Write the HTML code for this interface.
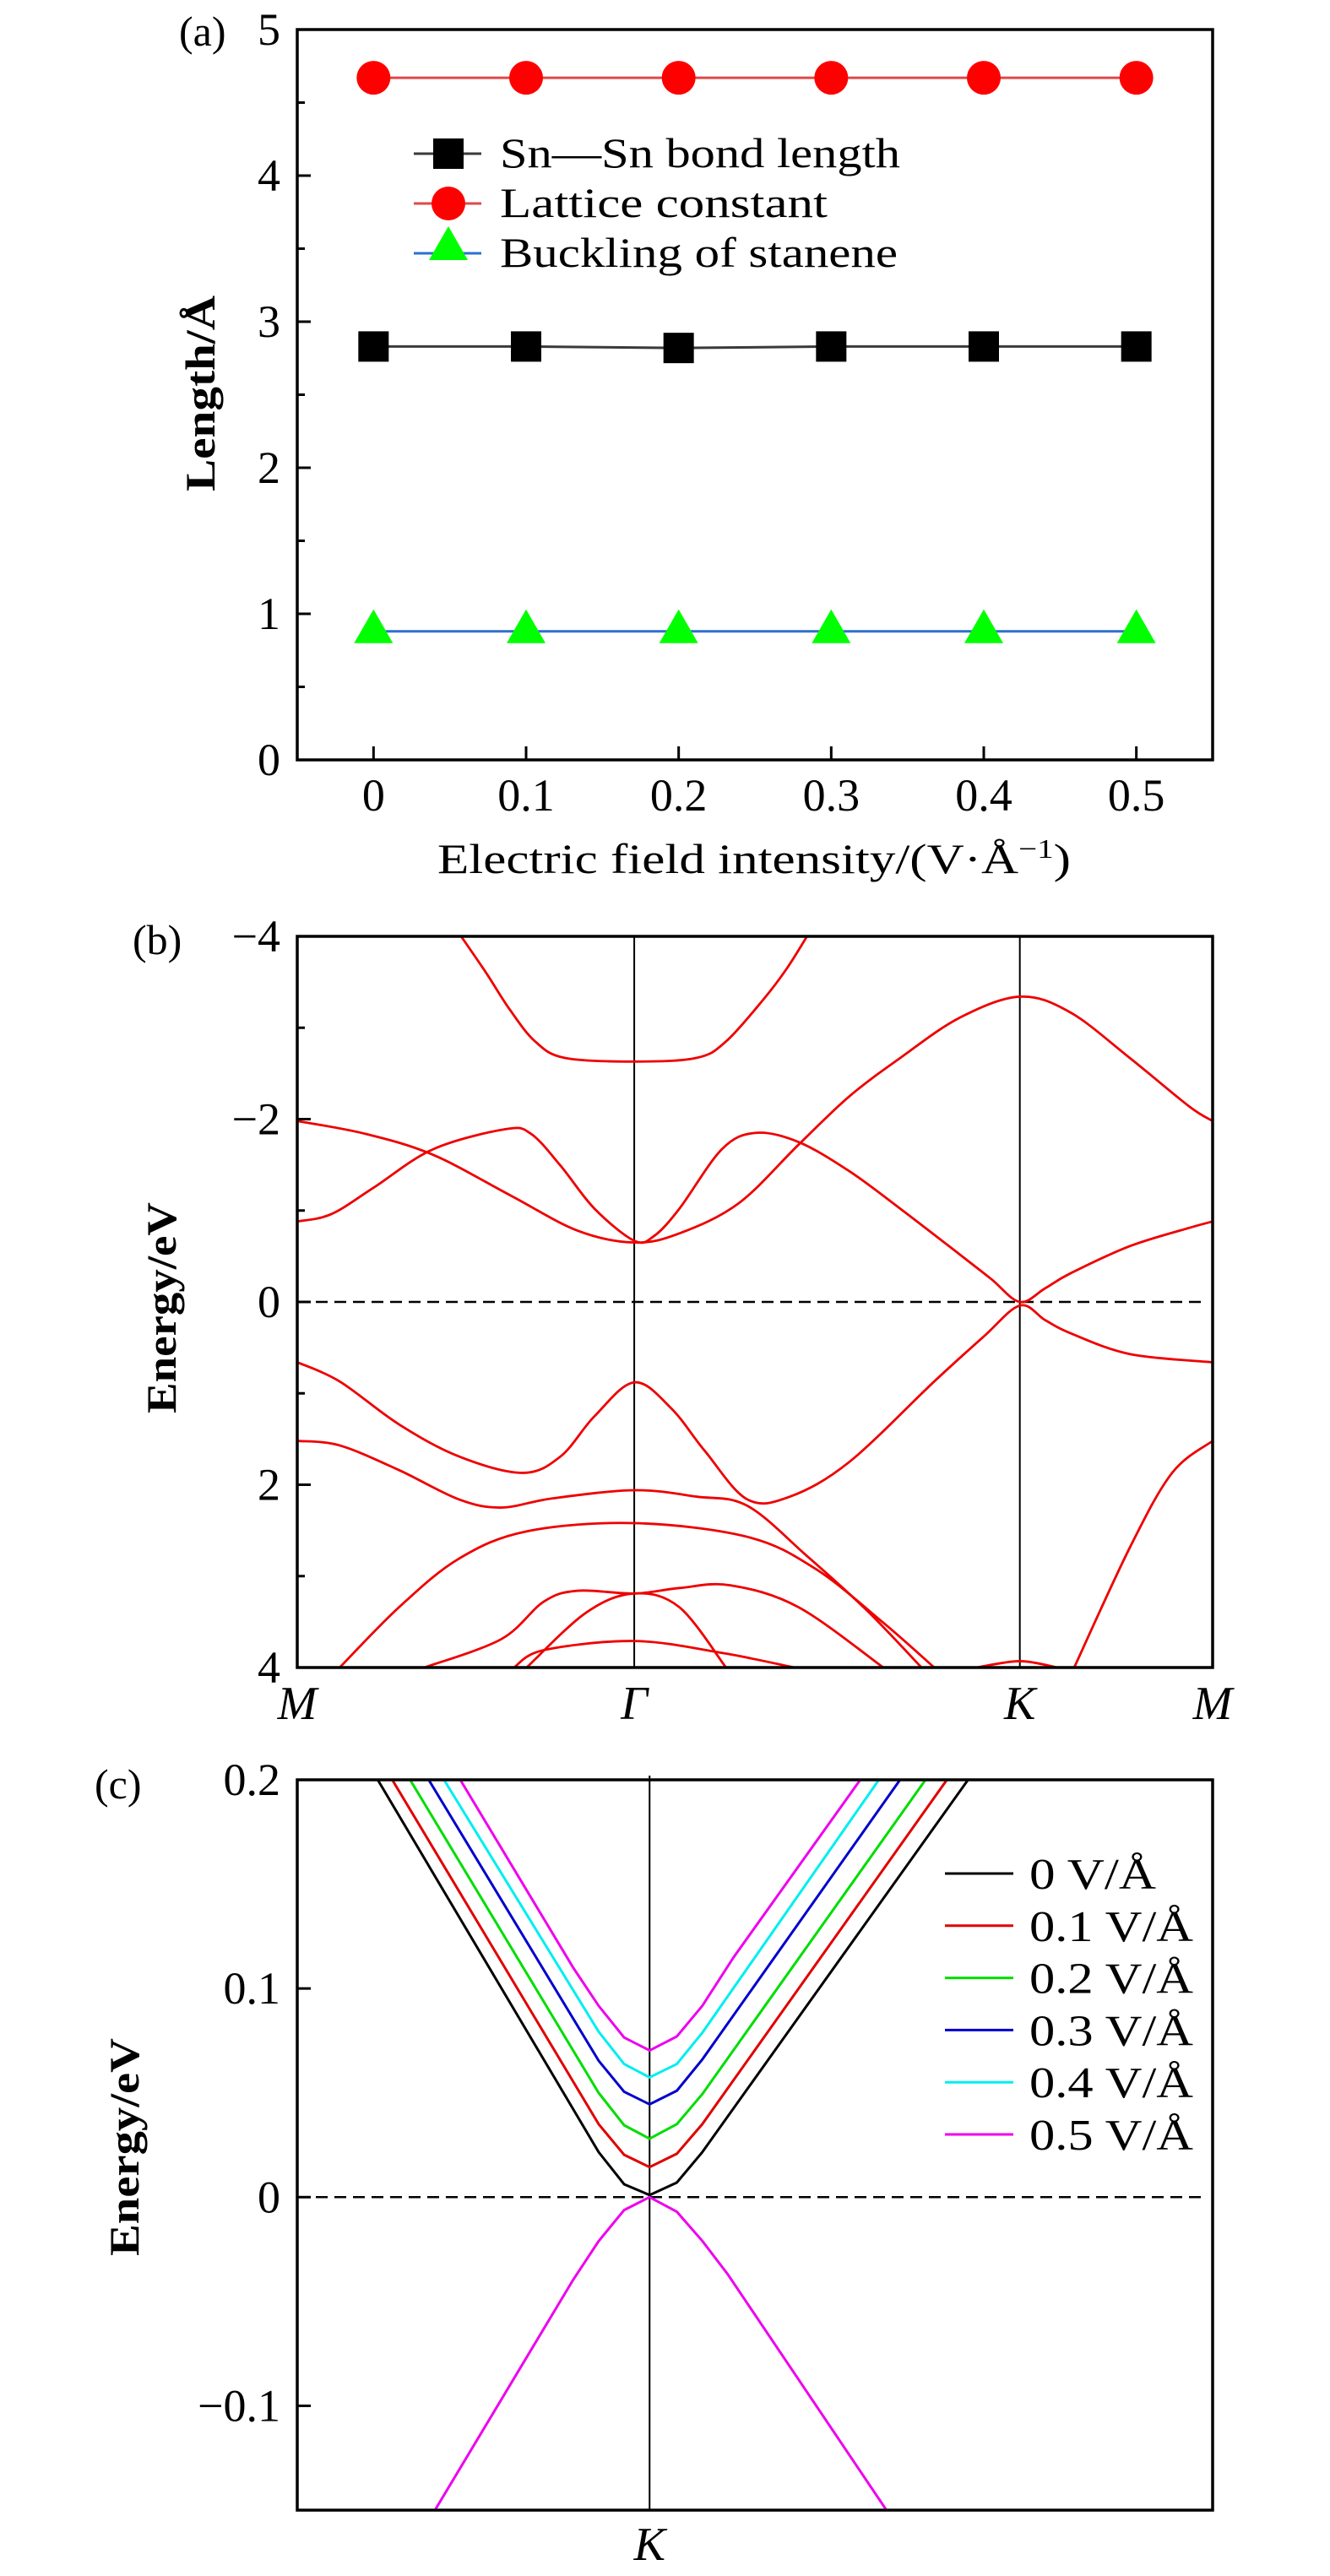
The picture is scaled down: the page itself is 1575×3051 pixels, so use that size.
<!DOCTYPE html>
<html><head><meta charset="utf-8"><style>
html,body{margin:0;padding:0;background:#fff}
svg{display:block}
text{font-family:"Liberation Serif",serif;fill:#000}
</style></head><body>
<svg id="fig" xmlns="http://www.w3.org/2000/svg" width="1575" height="3051" viewBox="0 0 1575 3051">
<g id="pa"></g>
<g id="pb"></g>
<g id="pc"></g>
</svg>
<script>
// ---------- Panel (a) data ----------
const aFields = [0, 0.1, 0.2, 0.3, 0.4, 0.5];
const aBond = [2.83, 2.83, 2.82, 2.83, 2.83, 2.83];
const aLattice = [4.67, 4.67, 4.67, 4.67, 4.67, 4.67];
const aBuckling = [0.88, 0.88, 0.88, 0.88, 0.88, 0.88];
const aXTicks = ["0", "0.1", "0.2", "0.3", "0.4", "0.5"];
const aYTicks = ["0", "1", "2", "3", "4", "5"];

// ---------- Panel (b) data (k along M-Γ-K-M, energy eV) ----------
const bKTicks = [0, 0.874, 1.874, 2.374];
const bKLabels = ["M", "Γ", "K", "M"];
const bYTicks = ["−4", "−2", "0", "2", "4"];
const bBand1 = [[0.425,-4.0],[0.49,-3.6],[0.551,-3.2],[0.617,-2.85],[0.694,-2.67],[0.874,-2.63],[1.035,-2.67],[1.112,-2.85],[1.211,-3.32],[1.27,-3.65],[1.322,-4.0]];
const bBand2 = [[0,-1.98],[0.176,-1.84],[0.352,-1.61],[0.551,-1.17],[0.727,-0.78],[0.874,-0.65],[0.991,-0.75],[1.145,-1.08],[1.300,-1.72],[1.432,-2.25],[1.564,-2.67],[1.718,-3.11],[1.874,-3.34],[2.004,-3.17],[2.159,-2.67],[2.313,-2.14],[2.374,-1.98]];
const bBand3 = [[0,-0.88],[0.088,-0.96],[0.198,-1.25],[0.352,-1.67],[0.540,-1.89],[0.606,-1.84],[0.683,-1.49],[0.771,-1.02],[0.874,-0.67],[0.925,-0.72],[0.991,-1.02],[1.101,-1.67],[1.189,-1.85],[1.300,-1.75],[1.432,-1.43],[1.564,-1.02],[1.718,-0.52],[1.80,-0.25],[1.874,0],[1.94,-0.15],[2.004,-0.31],[2.159,-0.61],[2.313,-0.81],[2.374,-0.88]];
const bBand4 = [[0,0.66],[0.110,0.87],[0.264,1.34],[0.419,1.69],[0.584,1.87],[0.683,1.69],[0.771,1.25],[0.874,0.88],[0.969,1.16],[1.057,1.63],[1.167,2.16],[1.278,2.13],[1.432,1.75],[1.652,0.87],[1.78,0.38],[1.874,0.04],[1.94,0.20],[2.004,0.34],[2.159,0.57],[2.374,0.66]];
const bBand5 = [[0,1.52],[0.110,1.57],[0.264,1.84],[0.419,2.16],[0.529,2.25],[0.661,2.15],[0.874,2.06],[1.035,2.13],[1.167,2.23],[1.322,2.78],[1.476,3.37],[1.619,4.0]];
const bBand6 = [[0.110,4.0],[0.264,3.34],[0.419,2.81],[0.595,2.51],[0.874,2.42],[1.167,2.57],[1.344,2.92],[1.520,3.51],[1.652,4.0]];
const bBand7 = [[0.330,4.0],[0.529,3.69],[0.639,3.28],[0.727,3.16],[0.874,3.19],[0.991,3.13],[1.123,3.10],[1.300,3.34],[1.520,4.0]];
const bBand8 = [[0.595,4.0],[0.749,3.40],[0.874,3.19],[0.991,3.34],[1.112,4.0]];
const bBand9 = [[0.562,4.0],[0.639,3.81],[0.874,3.71],[1.101,3.84],[1.289,4.0]];
const bBand10 = [[1.762,4.0],[1.874,3.93],[1.971,4.0]];
const bBand11 = [[2.015,4.0],[2.159,2.69],[2.269,1.87],[2.374,1.52]];

// ---------- Panel (c) data (Δk around K, energy eV) ----------
const cLabels = ["0 V/Å","0.1 V/Å","0.2 V/Å","0.3 V/Å","0.4 V/Å","0.5 V/Å"];
const cColors = ["#000000","#e00000","#00dd00","#0000cc","#00eeee","#ee00ee"];
const cYTicks = ["0.2","0.1","0","−0.1"];
const cBlack = [[-1.067,0.2],[-0.2,0.0216],[-0.1,0.0062],[0,0.001],[0.107,0.0070],[0.207,0.0216],[1.25,0.2]];
const cRed = [[-1.01,0.2],[-0.2,0.035],[-0.1,0.0203],[0,0.0144],[0.107,0.0208],[0.207,0.035],[1.167,0.2]];
const cGreen = [[-0.94,0.2],[-0.2,0.050],[-0.1,0.0345],[0,0.028],[0.107,0.035],[0.207,0.0494],[1.083,0.2]];
const cBlue = [[-0.867,0.2],[-0.2,0.0654],[-0.1,0.0505],[0,0.0445],[0.107,0.051],[0.207,0.066],[0.983,0.2]];
const cCyan = [[-0.807,0.2],[-0.2,0.0793],[-0.1,0.0638],[0,0.0574],[0.107,0.0638],[0.207,0.0788],[0.9,0.2]];
const cMagenta = [[-0.743,0.2],[-0.3,0.11],[-0.2,0.0917],[-0.1,0.0765],[0,0.0703],[0.107,0.077],[0.207,0.0917],[0.33,0.115],[0.827,0.2]];
const cValence = [[-0.84,-0.1495],[-0.3,-0.0396],[-0.2,-0.0211],[-0.1,-0.0062],[0,0],[0.107,-0.007],[0.207,-0.021],[0.307,-0.037],[0.927,-0.1495]];

const NS = "http://www.w3.org/2000/svg";
function mk(parent, tag, attrs, txt){
  const e = document.createElementNS(NS, tag);
  for (const k in attrs) e.setAttribute(k, attrs[k]);
  if (txt !== undefined) e.textContent = txt;
  parent.appendChild(e);
  return e;
}
function lin(d0,d1,r0,r1){ return v => r0 + (v-d0)/(d1-d0)*(r1-r0); }
function smoothPath(pts){
  let d = "M"+pts[0][0].toFixed(2)+","+pts[0][1].toFixed(2);
  for (let i=0;i<pts.length-1;i++){
    const p0=pts[Math.max(0,i-1)], p1=pts[i], p2=pts[i+1], p3=pts[Math.min(pts.length-1,i+2)];
    const c1x=p1[0]+(p2[0]-p0[0])/6, c1y=p1[1]+(p2[1]-p0[1])/6;
    const c2x=p2[0]-(p3[0]-p1[0])/6, c2y=p2[1]-(p3[1]-p1[1])/6;
    d += " C"+c1x.toFixed(2)+","+c1y.toFixed(2)+" "+c2x.toFixed(2)+","+c2y.toFixed(2)+" "+p2[0].toFixed(2)+","+p2[1].toFixed(2);
  }
  return d;
}
const TICKFONT = 54;

// ================= Panel A =================
(function(){
  const g = document.getElementById('pa');
  const L=352,R=1436,T=35,B=900;
  const x = lin(-0.05,0.55,L,R), y = lin(0,5,B,T);
  for (let i=0;i<aYTicks.length;i++){
    const v = +aYTicks[i];
    const t = mk(g,'line',{x1:L,x2:L+16,y1:y(v),y2:y(v),stroke:'#000','stroke-width':3});
     
    if (i<aYTicks.length-1){
      const m = mk(g,'line',{x1:L,x2:L+9,y1:y(v+0.5),y2:y(v+0.5),stroke:'#000','stroke-width':3});
       
    }
    const lb = mk(g,'text',{x:332,y:y(v)+18,'font-size':TICKFONT,'text-anchor':'end'},aYTicks[i]);
     
  }
  for (let i=0;i<aFields.length;i++){
    const t = mk(g,'line',{x1:x(aFields[i]),x2:x(aFields[i]),y1:B,y2:B-16,stroke:'#000','stroke-width':3});
     
    const lb = mk(g,'text',{x:x(aFields[i]),y:960,'font-size':TICKFONT,'text-anchor':'middle'},aXTicks[i]);
     
  }
  const series = [
    {v:aBond, line:'#3a3a3a', m:'square', name:'bond-length'},
    {v:aLattice, line:'#e04848', m:'circle', name:'lattice-constant'},
    {v:aBuckling, line:'#2f6fd0', m:'triangle', name:'buckling'}
  ];
  function marker(parent, m, cx, cy){
    let e;
    if (m==='square') e = mk(parent,'rect',{x:cx-18,y:cy-18,width:36,height:36,fill:'#000'});
    else if (m==='circle') e = mk(parent,'ellipse',{cx:cx,cy:cy,rx:20,ry:20,fill:'#ff0000'});
    else e = mk(parent,'polygon',{points:(cx-23)+','+(cy+14)+' '+(cx+23)+','+(cy+14)+' '+cx+','+(cy-26),fill:'#00ff00'});
    return e;
  }
  series.forEach(s=>{
    const pts = aFields.map((f,i)=>x(f)+','+y(s.v[i])).join(' ');
    const pl = mk(g,'polyline',{points:pts,fill:'none',stroke:s.line,'stroke-width':3});
     
    aFields.forEach((f,i)=>{
      const mm = marker(g,s.m,x(f),y(s.v[i]));
       
    });
  });
  const fr = mk(g,'rect',{x:L,y:T,width:R-L,height:B-T,fill:'none',stroke:'#000','stroke-width':3.5});
   
  const leg = mk(g,'g',{});
   
  const legTxt = ["Sn—Sn bond length","Lattice constant","Buckling of stanene"];
  const legW = [474,388,471];
  const legY = [182,241,300];
  series.forEach((s,i)=>{
    const ln = mk(leg,'line',{x1:490,x2:570,y1:legY[i],y2:legY[i],stroke:s.line,'stroke-width':3});
     
    const mm = marker(leg,s.m,531,legY[i]-(s.m==='triangle'?6:0));
     
    const tx = mk(leg,'text',{x:592,y:legY[i]+16,'font-size':50,textLength:legW[i],lengthAdjust:'spacingAndGlyphs'},legTxt[i]);
     
  });
  const xt = mk(g,'text',{x:518,y:1034,'font-size':50,textLength:750,lengthAdjust:'spacingAndGlyphs'});
   
  xt.innerHTML = 'Electric field intensity/(V·Å<tspan dy="-18" font-size="32">−1</tspan><tspan dy="18">)</tspan>';
  const yt = mk(g,'text',{x:0,y:0,'font-size':50,'font-weight':'bold','text-anchor':'middle',textLength:232,lengthAdjust:'spacingAndGlyphs',transform:'translate(254,466) rotate(-90)'},'Length/Å');
   
  const pl = mk(g,'text',{x:212,y:54,'font-size':50},'(a)');
   
})();

// ================= Panel B =================
(function(){
  const g = document.getElementById('pb');
  const L=352,R=1436,T=1109,B=1975;
  const x = lin(0,2.374,L,R), y = lin(-4,4,T,B);
  const yv = [-4,-2,0,2,4];
  yv.forEach((v,i)=>{
    const t = mk(g,'line',{x1:L,x2:L+16,y1:y(v),y2:y(v),stroke:'#000','stroke-width':3});
     
    if (i<yv.length-1){
      const m = mk(g,'line',{x1:L,x2:L+9,y1:y(v+1),y2:y(v+1),stroke:'#000','stroke-width':3});
       
    }
    const lb = mk(g,'text',{x:332,y:y(v)+18,'font-size':TICKFONT,'text-anchor':'end'},bYTicks[i]);
     
  });
  [bKTicks[1],bKTicks[2]].forEach(k=>{
    const v = mk(g,'line',{x1:x(k),x2:x(k),y1:T,y2:B,stroke:'#000','stroke-width':2});
     
  });
  bKTicks.forEach((k,i)=>{
    const lb = mk(g,'text',{x:x(k),y:2036,'font-size':56,'font-style':'italic','text-anchor':'middle'},bKLabels[i]);
     
  });
  const fl = mk(g,'line',{x1:L,x2:R-10,y1:y(0),y2:y(0),stroke:'#000','stroke-width':2.5,'stroke-dasharray':'14 8'});
   
  const clip = mk(g,'clipPath',{id:'clipb'});
  mk(clip,'rect',{x:L,y:T,width:R-L,height:B-T});
  const bands = [bBand1,bBand2,bBand3,bBand4,bBand5,bBand6,bBand7,bBand8,bBand9,bBand10,bBand11];
  const bg = mk(g,'g',{'clip-path':'url(#clipb)'});
  bands.forEach(b=>{
    const p = mk(bg,'path',{d:smoothPath(b.map(q=>[x(q[0]),y(q[1])])),fill:'none',stroke:'#ee0000','stroke-width':2.8});
     
  });
  const fr = mk(g,'rect',{x:L,y:T,width:R-L,height:B-T,fill:'none',stroke:'#000','stroke-width':3.5});
   
  const yt = mk(g,'text',{x:0,y:0,'font-size':50,'font-weight':'bold','text-anchor':'middle',textLength:250,lengthAdjust:'spacingAndGlyphs',transform:'translate(208,1549) rotate(-90)'},'Energy/eV');
   
  const pl = mk(g,'text',{x:157,y:1130,'font-size':50},'(b)');
   
})();

// ================= Panel C =================
(function(){
  const g = document.getElementById('pc');
  const L=352,R=1436,T=2108,B=2973;
  const x = lin(-1.383,2.21,L,R), y = lin(-0.15,0.2,B,T);
  const yv = [0.2,0.1,0,-0.1];
  yv.forEach((v,i)=>{
    const t = mk(g,'line',{x1:L,x2:L+16,y1:y(v),y2:y(v),stroke:'#000','stroke-width':3});
     
    const lb = mk(g,'text',{x:332,y:y(v)+18,'font-size':TICKFONT,'text-anchor':'end'},cYTicks[i]);
     
  });
  const kl = mk(g,'line',{x1:x(0),x2:x(0),y1:T-5,y2:B,stroke:'#000','stroke-width':2});
   
  const klb = mk(g,'text',{x:x(0),y:3032,'font-size':56,'font-style':'italic','text-anchor':'middle'},'K');
   
  const fl = mk(g,'line',{x1:L,x2:R-10,y1:y(0),y2:y(0),stroke:'#000','stroke-width':2.5,'stroke-dasharray':'14 8'});
   
  const curves = [cBlack,cRed,cGreen,cBlue,cCyan,cMagenta];
  curves.forEach((c,i)=>{
    const p = mk(g,'polyline',{points:c.map(q=>x(q[0])+','+y(q[1])).join(' '),fill:'none',stroke:cColors[i],'stroke-width':3});
     
  });
  const vb = mk(g,'polyline',{points:cValence.map(q=>x(q[0])+','+y(q[1])).join(' '),fill:'none',stroke:cColors[5],'stroke-width':3});
   
  const fr = mk(g,'rect',{x:L,y:T,width:R-L,height:B-T,fill:'none',stroke:'#000','stroke-width':3.5});
   
  const leg = mk(g,'g',{});
   
  cLabels.forEach((lab,i)=>{
    const ly = 2219 + i*61.8;
    const ln = mk(leg,'line',{x1:1119,x2:1200,y1:ly,y2:ly,stroke:cColors[i],'stroke-width':3});
     
    const tx = mk(leg,'text',{x:1219,y:ly+18,'font-size':52,textLength:(i===0?150:194),lengthAdjust:'spacingAndGlyphs'},lab);
     
  });
  const yt = mk(g,'text',{x:0,y:0,'font-size':50,'font-weight':'bold','text-anchor':'middle',textLength:258,lengthAdjust:'spacingAndGlyphs',transform:'translate(164,2543) rotate(-90)'},'Energy/eV');
   
  const pl = mk(g,'text',{x:112,y:2130,'font-size':50},'(c)');
   
})();
</script>
</body></html>
